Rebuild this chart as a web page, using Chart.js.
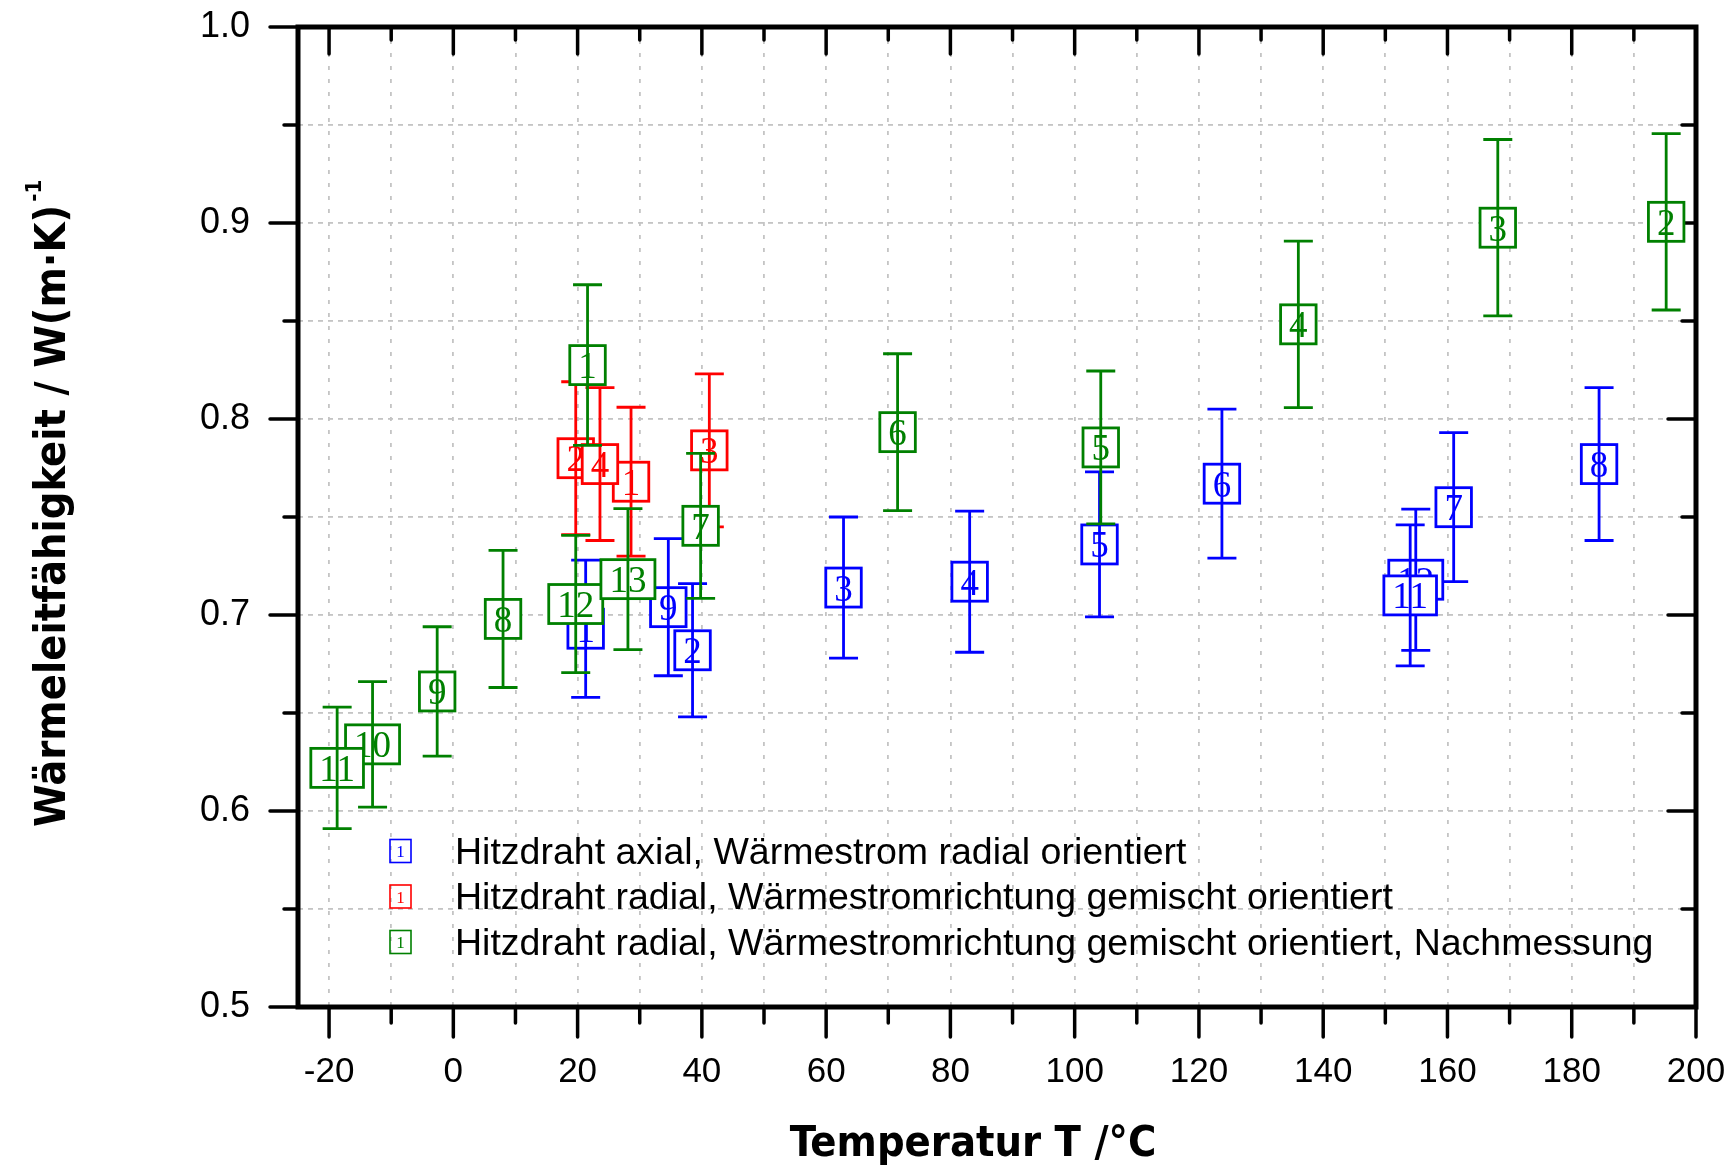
<!DOCTYPE html>
<html>
<head>
<meta charset="utf-8">
<script src="https://cdn.jsdelivr.net/npm/chart.js@4.4.0/dist/chart.umd.min.js"></script>
<style>
  html, body { margin: 0; padding: 0; background: #fff; }
</style>
</head>
<body>
<canvas id="grafico" width="1735" height="1168"></canvas>
<script>
// Hitzdraht axial, Wärmestrom radial orientiert (blau)
const axialNr = ['1', '2', '3', '4', '5', '6', '7', '8', '9', '12', '11'];
const axialT = [21.3, 38.5, 62.8, 83.1, 104.0, 123.7, 161.0, 184.4, 34.6, 154.9, 154.0];
const axialLambda = [0.693, 0.682, 0.714, 0.717, 0.736, 0.767, 0.755, 0.777, 0.704, 0.718, 0.710];
const axialFehler = [0.035, 0.034, 0.036, 0.036, 0.037, 0.038, 0.038, 0.039, 0.035, 0.036, 0.036];

// Hitzdraht radial, gemischt orientiert (rot)
const radialNr = ['1', '2', '3', '4'];
const radialT = [28.6, 19.7, 41.2, 23.6];
const radialLambda = [0.768, 0.780, 0.784, 0.777];
const radialFehler = [0.038, 0.039, 0.039, 0.039];

// Hitzdraht radial, Nachmessung (gruen)
const nachNr = ['1', '2', '3', '4', '5', '6', '7', '8', '9', '10', '11', '12', '13'];
const nachT = [21.6, 195.2, 168.1, 136.0, 104.2, 71.5, 39.8, 8.0, -2.6, -13.0, -18.7, 19.7, 28.1];
const nachLambda = [0.8275, 0.9006, 0.8976, 0.8483, 0.7855, 0.7933, 0.7455, 0.698, 0.661, 0.634, 0.622, 0.7056, 0.7183];
const nachFehler = [0.041, 0.045, 0.045, 0.0425, 0.039, 0.040, 0.037, 0.035, 0.033, 0.032, 0.031, 0.035, 0.036];

const xTicksBeschriftet = [-20, 0, 20, 40, 60, 80, 100, 120, 140, 160, 180, 200];
const yTicksBeschriftet = [0.5, 0.6, 0.7, 0.8, 0.9, 1.0];

const xTitel = 'Temperatur T /°C';
const yTitel = 'Wärmeleitfähigkeit / W(m·K)';
const yTitelHoch = '-1';

const titelFont = '"DejaVu Sans Condensed", "Liberation Sans Narrow", sans-serif';

const serie = (label, farbe, nr, t, lambda, fehler) => ({
  label: label,
  data: t.map((v, i) => ({ x: v, y: lambda[i] })),
  nummern: nr,
  fehler: fehler,
  borderColor: farbe,
  backgroundColor: farbe,
  pointRadius: 0,
  showLine: false
});

// Fehlerbalken + Kaestchen mit Nummer
const messpunkte = {
  id: 'messpunkte',
  afterDatasetsDraw(chart) {
    const ctx = chart.ctx;
    const y = chart.scales.y;
    ctx.save();
    ctx.font = '37px "Liberation Serif", serif';
    chart.data.datasets.forEach((ds, i) => {
      const meta = chart.getDatasetMeta(i);
      meta.data.forEach((pt, j) => {
        const nr = ds.nummern[j];
        const w = ctx.measureText(nr).width + 17;
        const h = 39;
        const yo = y.getPixelForValue(ds.data[j].y + ds.fehler[j]);
        const yu = y.getPixelForValue(ds.data[j].y - ds.fehler[j]);
        ctx.fillStyle = '#fff';
        ctx.fillRect(pt.x - w / 2, pt.y - h / 2, w, h);
        ctx.strokeStyle = ds.borderColor;
        ctx.lineWidth = 2.8;
        ctx.strokeRect(pt.x - w / 2, pt.y - h / 2, w, h);
        ctx.beginPath();
        ctx.moveTo(pt.x, yo); ctx.lineTo(pt.x, yu);
        ctx.moveTo(pt.x - 14.5, yo); ctx.lineTo(pt.x + 14.5, yo);
        ctx.moveTo(pt.x - 14.5, yu); ctx.lineTo(pt.x + 14.5, yu);
        ctx.stroke();
        ctx.fillStyle = ds.borderColor;
        ctx.textAlign = 'center';
        ctx.textBaseline = 'alphabetic';
        ctx.fillText(nr, pt.x, pt.y + 13);
      });
    });
    ctx.restore();
  }
};

// Rahmen und Teilstriche wie im Origin-Plot
const rahmen = {
  id: 'rahmen',
  beforeDatasetsDraw(chart) {
    const { ctx, chartArea: a, scales: { x, y } } = chart;
    const strich = (x1, y1, x2, y2) => { ctx.beginPath(); ctx.moveTo(x1, y1); ctx.lineTo(x2, y2); ctx.stroke(); };
    ctx.save();
    ctx.strokeStyle = '#000';
    ctx.lineWidth = 3.5;
    ctx.lineCap = 'round';
    for (let v = -20; v <= 200; v += 10) {
      const px = x.getPixelForValue(v);
      const gross = v % 20 === 0;
      strich(px, a.bottom, px, a.bottom + (gross ? 30 : 16));
      strich(px, a.top, px, a.top + (gross ? 27 : 13));
    }
    for (let k = 0; k <= 10; k++) {
      const py = y.getPixelForValue(0.5 + k * 0.05);
      const gross = k % 2 === 0;
      strich(a.left - (gross ? 28 : 14), py, a.left, py);
      strich(a.right - (gross ? 28 : 14), py, a.right, py);
    }
    ctx.lineCap = 'butt';
    ctx.lineWidth = 5;
    ctx.strokeRect(a.left, a.top, a.right - a.left, a.bottom - a.top);
    ctx.restore();
  }
};

// Achsentitel und Legende
const beschriftung = {
  id: 'beschriftung',
  afterDraw(chart) {
    const { ctx } = chart;
    ctx.save();
    ctx.fillStyle = '#000';
    ctx.font = 'bold 43px ' + titelFont;
    ctx.textAlign = 'center';
    ctx.textBaseline = 'alphabetic';
    ctx.fillText(xTitel, 973, 1156);

    ctx.translate(65, 827);
    ctx.rotate(-Math.PI / 2);
    ctx.textAlign = 'left';
    ctx.font = 'bold 43px ' + titelFont;
    ctx.fillText(yTitel, 0, 0);
    const b = ctx.measureText(yTitel).width;
    ctx.font = 'bold 22px ' + titelFont;
    ctx.fillText(yTitelHoch, b + 3, -24);
    ctx.restore();

    ctx.save();
    chart.data.datasets.forEach((ds, i) => {
      const cy = 851 + i * 45.5;
      ctx.strokeStyle = ds.borderColor;
      ctx.lineWidth = 1.6;
      ctx.strokeRect(390, cy - 11.5, 21, 23);
      ctx.fillStyle = ds.borderColor;
      ctx.font = '17px "Liberation Serif", serif';
      ctx.textAlign = 'center';
      ctx.fillText('1', 400.5, cy + 6);
      ctx.fillStyle = '#000';
      ctx.font = '37.5px "Liberation Sans", Arial, sans-serif';
      ctx.textAlign = 'left';
      ctx.fillText(ds.label, 455, cy + 12.5);
    });
    ctx.restore();
  }
};

const gitter = { color: '#c4c4c4', lineWidth: 1.8, drawTicks: false };

const grafico = new Chart(document.getElementById('grafico'), {
  type: 'scatter',
  data: {
    datasets: [
      serie('Hitzdraht axial, Wärmestrom radial orientiert', '#0000ff', axialNr, axialT, axialLambda, axialFehler),
      serie('Hitzdraht radial, Wärmestromrichtung gemischt orientiert', '#ff0000', radialNr, radialT, radialLambda, radialFehler),
      serie('Hitzdraht radial, Wärmestromrichtung gemischt orientiert, Nachmessung', '#008000', nachNr, nachT, nachLambda, nachFehler)
    ]
  },
  options: {
    responsive: false,
    animation: false,
    devicePixelRatio: 1,
    events: [],
    layout: { padding: { top: 27, right: 39, left: 0, bottom: 0 } },
    plugins: { legend: { display: false }, tooltip: { enabled: false } },
    scales: {
      x: {
        type: 'linear',
        min: -25,
        max: 200,
        grid: gitter,
        border: { display: false, dash: [4, 9] },
        ticks: {
          stepSize: 10,
          includeBounds: false,
          padding: 44,
          maxRotation: 0,
          autoSkip: false,
          color: '#000',
          font: { family: '"Liberation Sans", Arial, sans-serif', size: 35 },
          callback: v => (xTicksBeschriftet.includes(v) ? String(v) : '')
        },
        afterFit: s => { s.height = 161; s.paddingLeft = 0; s.paddingRight = 0; }
      },
      y: {
        type: 'linear',
        min: 0.5,
        max: 1.0,
        grid: gitter,
        border: { display: false, dash: [5, 5] },
        ticks: {
          stepSize: 0.05,
          includeBounds: false,
          padding: 48,
          autoSkip: false,
          color: '#000',
          font: { family: '"Liberation Sans", Arial, sans-serif', size: 36 },
          callback: v => {
            const r = Math.round(v * 10) / 10;
            return (Math.abs(v - r) < 1e-6 && yTicksBeschriftet.includes(r)) ? r.toFixed(1) : '';
          }
        },
        afterFit: s => { s.width = 298; s.paddingTop = 0; s.paddingBottom = 0; }
      }
    }
  },
  plugins: [rahmen, messpunkte, beschriftung]
});
</script>
</body>
</html>
